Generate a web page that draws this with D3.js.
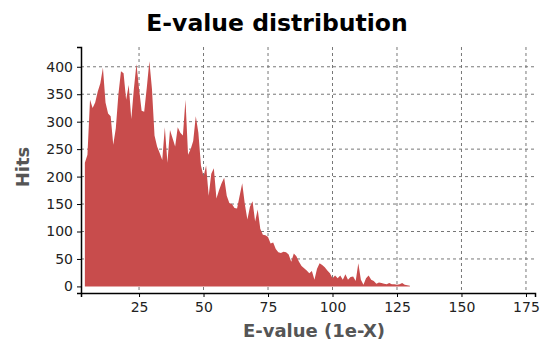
<!DOCTYPE html>
<html>
<head>
<meta charset="utf-8">
<script src="https://cdn.jsdelivr.net/npm/d3@7/dist/d3.min.js"></script>
<style>
  body { margin: 0; background: #fff; }
  text { font-family: "DejaVu Sans", sans-serif; }
</style>
</head>
<body>
<div id="chart"></div>
<script>
// E-value exponent (1e-X) bins
const evalues = d3.range(4, 131);
// hits per bin
const hits = [
  225, 240, 340, 325, 335, 355, 370, 398, 335, 315,   // 4-13
  310, 258, 288, 350, 392, 388, 340, 367, 305, 360,   // 14-23
  405, 360, 320, 318, 362, 410, 360, 275, 255, 243,   // 24-33
  230, 290, 225, 285, 270, 255, 290, 280, 275, 340,   // 34-43
  240, 250, 265, 310, 280, 220, 200, 220, 165, 205,   // 44-53
  215, 160, 175, 188, 198, 165, 152, 150, 143, 142,   // 54-63
  165, 188, 150, 122, 145, 155, 118, 140, 105, 94,    // 64-73
  93, 90, 78, 80, 68, 62, 61, 63, 62, 58,             // 74-83
  45, 60, 55, 45, 37, 33, 29, 24, 28, 12,             // 84-93
  32, 42, 39, 35, 29, 24, 15, 20, 15, 20,             // 94-103
  12, 22, 12, 17, 18, 10, 42, 12, 3, 15,              // 104-113
  20, 12, 10, 5, 7, 6, 5, 4, 6, 4,                    // 114-123
  4, 3, 4, 6, 3, 2, 1                                 // 124-130
];
const xTicks = [25, 50, 75, 100, 125, 150, 175];
const yTicks = [0, 50, 100, 150, 200, 250, 300, 350, 400];

const width = 545, height = 345;
const mLeft = 81, mRight = 535, mTop = 47, mBottom = 293;

const svg = d3.select("#chart").append("svg")
  .attr("width", width)
  .attr("height", height);

const x = d3.scaleLinear().domain([2.5, 178.5]).range([mLeft, mRight]);
const y = d3.scaleLinear().domain([-12, 436]).range([mBottom, mTop]);

// grid
svg.append("g")
  .selectAll("line")
  .data(xTicks)
  .enter().append("line")
  .attr("x1", d => x(d)).attr("x2", d => x(d))
  .attr("y1", mTop).attr("y2", mBottom)
  .attr("stroke", "#777").attr("stroke-dasharray", "3,3");

svg.append("g")
  .selectAll("line")
  .data(yTicks.filter(d => d > 0))
  .enter().append("line")
  .attr("x1", mLeft).attr("x2", mRight)
  .attr("y1", d => y(d)).attr("y2", d => y(d))
  .attr("stroke", "#777").attr("stroke-dasharray", "3,3");

// area
const data = evalues.map((e, i) => ({ e: e, h: hits[i] }));
const area = d3.area()
  .x(d => x(d.e))
  .y0(y(0))
  .y1(d => y(d.h));

svg.append("path")
  .datum(data)
  .attr("d", area)
  .attr("fill", "#c84c4c");

// axes
const xAxis = svg.append("g")
  .attr("transform", "translate(0," + mBottom + ")")
  .call(d3.axisBottom(x).tickValues(xTicks).tickSize(4).tickPadding(5));

const yAxis = svg.append("g")
  .attr("transform", "translate(" + mLeft + ",0)")
  .call(d3.axisLeft(y).tickValues(yTicks).tickSize(4).tickPadding(4));

[xAxis, yAxis].forEach(a => {
  a.select(".domain").attr("stroke", "#000").attr("stroke-width", 1.5);
  a.selectAll(".tick line").attr("stroke", "#000");
  a.selectAll(".tick text")
    .attr("fill", "#222")
    .style("font-size", "14px")
    .style("font-family", "DejaVu Sans, sans-serif");
});

// titles
svg.append("text")
  .attr("x", 277)
  .attr("y", 31)
  .attr("text-anchor", "middle")
  .style("font-size", "23.5px")
  .style("font-weight", "bold")
  .attr("fill", "#000")
  .text("E-value distribution");

svg.append("text")
  .attr("x", 314)
  .attr("y", 337)
  .attr("text-anchor", "middle")
  .style("font-size", "18px")
  .style("font-weight", "bold")
  .attr("fill", "#555")
  .text("E-value (1e-X)");

svg.append("text")
  .attr("transform", "translate(29,167) rotate(-90)")
  .attr("text-anchor", "middle")
  .style("font-size", "18px")
  .style("font-weight", "bold")
  .attr("fill", "#555")
  .text("Hits");
</script>
</body>
</html>
